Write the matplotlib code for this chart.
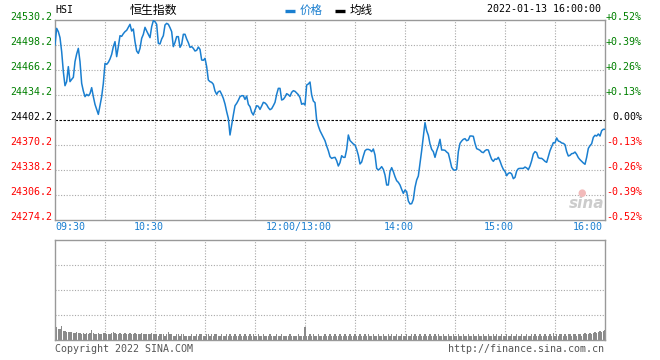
import matplotlib
matplotlib.use("Agg")
import matplotlib.pyplot as plt
from matplotlib.transforms import ScaledTranslation, blended_transform_factory
from matplotlib.lines import Line2D
import numpy as np

# ---------------- data ----------------
symbol = "HSI"
title = "恒生指数"
timestamp = "2022-01-13 16:00:00"
prev_close = 24402.2
price_levels = [24530.2, 24498.2, 24466.2, 24434.2, 24402.2, 24370.2, 24338.2, 24306.2, 24274.2]
grid_minutes = [0, 30, 60, 90, 120, 150, 180, 210, 240, 270, 300, 330]
time_tick_minutes = [0, 60, 150, 210, 270, 330]
time_tick_labels = ["09:30", "10:30", "12:00/13:00", "14:00", "15:00", "16:00"]

prices = [
    24498.2, 24519.5, 24515.3, 24507.6, 24489.7, 24464.1, 24446.1, 24451.3, 24470.5, 24451.3,
    24454.2, 24456.8, 24476.9, 24486.7, 24493.9, 24476.9, 24449.1, 24439.3, 24432.1, 24435.0,
    24433.3, 24435.9, 24443.6, 24432.1, 24422.2, 24415.9, 24409.4, 24420.5, 24432.1, 24449.1,
    24474.7, 24473.4, 24476.0, 24480.3, 24486.2, 24496.1, 24502.5, 24483.3, 24496.1, 24510.1,
    24509.3, 24512.7, 24515.3, 24517.0, 24520.8, 24524.7, 24516.1, 24518.7, 24502.5, 24490.5,
    24487.5, 24493.9, 24506.7, 24511.8, 24520.8, 24516.1, 24511.8, 24507.6, 24521.7, 24529.3,
    24528.1, 24524.7, 24500.3, 24499.5, 24505.9, 24510.1, 24523.8, 24525.9, 24524.7, 24520.4,
    24515.3, 24496.1, 24501.6, 24508.9, 24508.9, 24495.2, 24499.0, 24511.9, 24511.9, 24505.9,
    24501.2, 24495.2, 24496.1, 24493.9, 24490.5, 24491.4, 24495.6, 24492.6, 24479.0, 24478.6,
    24481.1, 24470.5, 24453.4, 24451.3, 24450.4, 24447.9, 24439.3, 24435.0, 24438.5, 24439.3,
    24435.0, 24429.9, 24422.7, 24412.9, 24404.3, 24383.0, 24395.8, 24408.6, 24420.5, 24423.5,
    24427.4, 24432.1, 24433.3, 24433.3, 24428.6, 24432.9, 24422.2, 24419.3, 24412.0, 24408.6,
    24415.0, 24420.5, 24419.7, 24415.8, 24420.1, 24424.8, 24424.0, 24421.8, 24418.0, 24415.4,
    24416.7, 24420.5, 24424.8, 24435.0, 24442.7, 24442.7, 24427.8, 24428.7, 24431.6, 24435.9,
    24434.6, 24432.5, 24437.6, 24439.7, 24438.9, 24436.8, 24434.6, 24430.8, 24422.3, 24423.5,
    24421.4, 24447.0, 24448.3, 24450.8, 24434.2, 24426.5, 24424.4, 24402.2, 24394.5, 24388.5,
    24384.3, 24380.0, 24375.7, 24368.9, 24362.9, 24355.3, 24353.1, 24354.0, 24354.4, 24350.1,
    24343.3, 24347.6, 24356.5, 24354.4, 24354.4, 24364.6, 24383.0, 24375.9, 24373.6, 24371.5,
    24370.2, 24364.6, 24357.0, 24345.9, 24348.4, 24356.1, 24362.9, 24364.6, 24364.6, 24363.8,
    24361.7, 24365.1, 24357.4, 24340.3, 24338.2, 24339.9, 24342.5, 24339.0, 24331.8, 24319.0,
    24319.0, 24336.1, 24341.2, 24336.1, 24329.7, 24324.5, 24322.4, 24319.0, 24313.4, 24308.3,
    24312.6, 24310.5, 24298.5, 24294.7, 24295.1, 24300.6, 24316.0, 24325.4, 24330.5, 24346.7,
    24363.0, 24380.9, 24398.8, 24388.5, 24382.6, 24371.5, 24364.6, 24361.7, 24354.4, 24362.5,
    24368.9, 24377.5, 24363.8, 24363.8, 24363.4, 24361.2, 24359.5, 24351.0, 24341.6, 24338.6,
    24337.8, 24339.0, 24361.7, 24372.3, 24375.3, 24377.5, 24378.3, 24375.7, 24376.6, 24381.7,
    24381.7, 24381.3, 24372.3, 24365.5, 24364.6, 24363.4, 24361.2, 24360.4, 24362.9, 24364.2,
    24363.8, 24357.4, 24351.8, 24349.3, 24352.3, 24351.8, 24354.4, 24349.7, 24343.7, 24339.0,
    24336.5, 24330.9, 24333.9, 24334.8, 24333.1, 24327.1, 24328.8, 24336.9, 24339.9, 24340.3,
    24340.3, 24340.3, 24342.0, 24340.8, 24338.6, 24343.3, 24350.1, 24358.7, 24361.7, 24360.4,
    24354.0, 24353.1, 24353.1, 24351.4, 24349.3, 24348.0, 24355.3, 24362.9, 24368.1, 24373.2,
    24372.8, 24379.2, 24375.3, 24374.5, 24372.8, 24372.3, 24370.6, 24361.7, 24356.1, 24357.0,
    24359.1, 24359.5, 24361.2, 24358.2, 24354.0, 24351.4, 24349.3, 24347.2, 24345.5, 24354.4,
    24365.9, 24369.3, 24371.9, 24380.0, 24382.6, 24381.7, 24384.3, 24381.7, 24388.5, 24390.3,
    24390.3,
]

volume = [
    14, 12, 10, 10, 13, 8, 8, 7, 7, 7,
    7, 6, 6, 7, 6, 6, 5, 6, 5, 6,
    5, 6, 9, 6, 5, 5, 6, 5, 5, 6,
    6, 5, 5, 5, 6, 7, 6, 5, 5, 6,
    5, 5, 6, 5, 5, 6, 5, 5, 6, 5,
    5, 5, 6, 5, 5, 5, 5, 5, 6, 5,
    5, 5, 4, 5, 5, 5, 4, 5, 7, 5,
    5, 4, 4, 5, 5, 4, 5, 5, 4, 4,
    4, 4, 5, 4, 4, 5, 4, 5, 5, 4,
    4, 5, 5, 4, 5, 4, 5, 5, 4, 4,
    5, 4, 4, 5, 4, 5, 4, 4, 5, 4,
    4, 5, 4, 4, 5, 4, 4, 5, 4, 5,
    4, 4, 5, 4, 4, 5, 4, 4, 4, 5,
    4, 4, 4, 5, 4, 4, 5, 4, 4, 4,
    4, 5, 4, 4, 4, 4, 5, 4, 4, 4,
    12, 4, 4, 5, 4, 5, 4, 4, 5, 4,
    4, 4, 5, 4, 4, 5, 4, 4, 5, 4,
    4, 5, 4, 4, 5, 4, 4, 5, 4, 4,
    5, 4, 4, 5, 4, 4, 5, 4, 5, 4,
    4, 5, 4, 4, 5, 4, 4, 5, 4, 4,
    5, 4, 5, 4, 4, 5, 4, 4, 5, 4,
    4, 5, 4, 4, 5, 4, 5, 4, 4, 5,
    4, 4, 5, 4, 4, 5, 4, 4, 5, 4,
    5, 4, 4, 5, 4, 4, 5, 4, 4, 5,
    4, 4, 5, 4, 4, 5, 4, 4, 5, 4,
    4, 5, 4, 4, 5, 4, 4, 5, 4, 4,
    5, 4, 4, 5, 4, 5, 4, 4, 5, 4,
    4, 5, 4, 4, 5, 4, 4, 5, 4, 4,
    5, 4, 4, 5, 4, 4, 5, 4, 5, 4,
    4, 5, 4, 4, 5, 4, 4, 5, 4, 6,
    4, 5, 4, 5, 5, 4, 5, 4, 5, 5,
    4, 5, 5, 4, 5, 5, 4, 5, 6, 5,
    5, 6, 5, 6, 7, 6, 7, 8, 7, 8,
    9,
]

# ---------------- style ----------------
W, H = 660, 360
MONO = "DejaVu Sans Mono"
CJK = ["Noto Sans CJK SC", "DejaVu Sans"]
LINE_BLUE = "#1a7fd0"
GREEN = "#008000"
RED = "#ff0000"
FRAME = "#999999"
GRID = "#a8a8a8"
FS = 7.2

def fx(px):
    return px / W

def fy(py):
    return 1 - py / H

fig = plt.figure(figsize=(W / 100, H / 100), dpi=100)
fig.patch.set_facecolor("white")

ax = fig.add_axes([fx(55), fy(220), 550 / W, 200 / H])
axv = fig.add_axes([fx(55), fy(340), 550 / W, 100 / H])

minutes = np.arange(len(prices))

for a in (ax, axv):
    a.set_xlim(grid_minutes[0], grid_minutes[-1])
    for s in a.spines.values():
        s.set_color(FRAME)
        s.set_linewidth(1.0)
    a.set_xticks([])
    a.set_yticks([])
    for gm in grid_minutes[1:-1]:
        a.axvline(gm, color=GRID, lw=0.8, ls=(0, (1, 1.5)), zorder=1)

# main panel
ax.set_ylim(price_levels[-1], price_levels[0])
for lvl in price_levels[1:-1]:
    if lvl != prev_close:
        ax.axhline(lvl, color=GRID, lw=0.8, ls=(0, (1, 1.5)), zorder=1)
ax.axhline(prev_close, color="black", lw=0.8, ls=(0, (2.2, 1.4)), zorder=2)
ax.plot(minutes, prices, color=LINE_BLUE, lw=1.1, zorder=3)

up = ScaledTranslation(0, 3 / 100, fig.dpi_scale_trans)
left_tr = blended_transform_factory(fig.transFigure, ax.transData)
for lvl in price_levels:
    col = GREEN if lvl > prev_close else (RED if lvl < prev_close else "black")
    pct = (lvl - prev_close) / prev_close * 100
    if abs(pct) < 0.005:
        ptxt = "0.00%"
    else:
        ptxt = f"{pct:+.2f}%"
    ax.text(fx(52), lvl, f"{lvl:.1f}", transform=left_tr + up, ha="right", va="center",
            color=col, fontsize=FS, family=MONO)
    ax.text(fx(642), lvl, ptxt, transform=left_tr + up, ha="right", va="center",
            color=col, fontsize=FS, family=MONO)

# time labels
bot_tr = blended_transform_factory(ax.transData, fig.transFigure)
shift = ScaledTranslation(-6 / 100, 0, fig.dpi_scale_trans)
for i, (m, lab) in enumerate(zip(time_tick_minutes, time_tick_labels)):
    if i == 0:
        ax.text(m, fy(227), lab, transform=bot_tr, ha="left", va="center",
                color=LINE_BLUE, fontsize=FS, family=MONO)
    elif i == len(time_tick_minutes) - 1:
        ax.text(m, fy(227), lab, transform=bot_tr + ScaledTranslation(-2 / 100, 0, fig.dpi_scale_trans),
                ha="right", va="center", color=LINE_BLUE, fontsize=FS, family=MONO)
    else:
        ax.text(m, fy(227), lab, transform=bot_tr + shift, ha="center", va="center",
                color=LINE_BLUE, fontsize=FS, family=MONO)

# volume panel
axv.set_ylim(0, 90)
for lvl in (22.5, 45, 67.5):
    axv.axhline(lvl, color=GRID, lw=0.8, ls=(0, (1, 1.5)), zorder=1)
axv.bar(minutes, volume, width=0.65, color="#8a8a8a", linewidth=0, zorder=2)

# header
fig.text(fx(55), fy(10), symbol, ha="left", va="center", fontsize=FS, family=MONO, color="black")
fig.text(fx(130), fy(10), title, ha="left", va="center", fontsize=8.6, family=CJK, color="black")
fig.add_artist(Line2D([fx(285), fx(295)], [fy(11), fy(11)], color=LINE_BLUE, lw=2.4,
                      solid_capstyle="butt", transform=fig.transFigure))
fig.text(fx(300), fy(10), "价格", ha="left", va="center", fontsize=8.3, family=CJK, color=LINE_BLUE)
fig.add_artist(Line2D([fx(335), fx(345)], [fy(11), fy(11)], color="black", lw=2.4,
                      solid_capstyle="butt", transform=fig.transFigure))
fig.text(fx(350), fy(10), "均线", ha="left", va="center", fontsize=8.3, family=CJK, color="black")
fig.text(fx(601), fy(9.5), timestamp, ha="right", va="center", fontsize=FS, family=MONO, color="black")

# footer
fig.text(fx(55), fy(349.5), "Copyright 2022 SINA.COM", ha="left", va="center", fontsize=FS,
         family=MONO, color="#555555")
fig.text(fx(604), fy(349.5), "http://finance.sina.com.cn", ha="right", va="center", fontsize=FS,
         family=MONO, color="#555555")

# watermark
fig.text(fx(587), fy(204), "sina", ha="center", va="center", fontsize=11, fontweight="bold",
         style="italic", color="#cccccc", family="DejaVu Sans")
fig.text(fx(582), fy(193), "●", ha="center", va="center", fontsize=7, color="#f2baba", family="DejaVu Sans")

fig.savefig("out.png", dpi=100, facecolor="white")
